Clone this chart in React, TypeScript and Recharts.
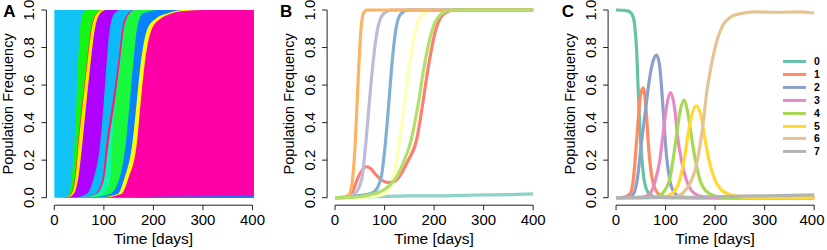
import React from "react";
import { ComposedChart, Area, Line, XAxis, YAxis, ReferenceLine, Legend } from "recharts";

type Pt = [number, number];

const timeTicks = [0, 100, 200, 300, 400];
const freqTicks = [0, 0.2, 0.4, 0.6, 0.8, 1];

// Panel A: cumulative clone boundaries, [day, frequency]
const aFounder: Pt[] = [[0, 1], [403, 1]];
const aGreen1: Pt[] = [[0, 0], [20, 0.001], [30, 0.02], [34.5, 0.1], [41, 0.3], [44.5, 0.5], [47.5, 0.7], [52, 0.9], [57, 0.98], [64, 1], [403, 1]];
const aRed1: Pt[] = [[0, 0], [22, 0.001], [33, 0.02], [41, 0.1], [48, 0.3], [56, 0.5], [64.5, 0.7], [74, 0.9], [84, 0.98], [96, 1], [403, 1]];
const aYellow1: Pt[] = [[0, 0], [23.5, 0.001], [34.5, 0.02], [42.5, 0.1], [49.5, 0.3], [57.5, 0.5], [66, 0.7], [75.5, 0.9], [85.5, 0.98], [97.5, 1], [403, 1]];
const aPurple: Pt[] = [[0, 0], [26, 0.001], [39, 0.02], [48, 0.1], [57, 0.3], [64.5, 0.5], [72.5, 0.7], [82, 0.9], [92, 0.98], [104, 1], [403, 1]];
const aBlue1: Pt[] = [[0, 0], [38, 0.001], [65, 0.02], [79, 0.1], [93, 0.3], [99.5, 0.5], [105, 0.7], [112, 0.9], [121, 0.98], [133, 1], [403, 1]];
const aRed2: Pt[] = [[0, 0], [50, 0.001], [82, 0.02], [97, 0.1], [105.4, 0.3], [117, 0.5], [127.7, 0.7], [137, 0.9], [148, 0.98], [160, 1], [403, 1]];
const aAqua: Pt[] = [[0, 0], [52, 0.001], [85, 0.02], [100.5, 0.1], [110, 0.3], [121.5, 0.5], [131.5, 0.7], [140.5, 0.9], [151.5, 0.98], [163, 1], [403, 1]];
const aGreen2: Pt[] = [[0, 0], [60, 0.001], [100, 0.02], [113, 0.1], [117, 0.3], [123, 0.5], [133, 0.7], [142, 0.9], [153, 0.98], [165, 1], [403, 1]];
const aBlue2: Pt[] = [[0, 0], [70, 0.001], [112, 0.02], [131, 0.1], [144.7, 0.3], [152, 0.5], [158.8, 0.7], [167, 0.9], [178, 0.98], [195, 0.995], [210, 1], [403, 1]];
const aYellow2: Pt[] = [[0, 0], [85, 0.001], [128, 0.02], [141, 0.1], [158, 0.3], [166, 0.5], [173.7, 0.7], [188, 0.9], [205, 0.955], [228, 0.982], [260, 1], [403, 1]];
const aMagenta: Pt[] = [[0, 0], [95, 0.001], [135, 0.02], [149, 0.1], [167, 0.3], [174, 0.5], [181.8, 0.7], [197, 0.9], [215, 0.955], [236, 0.982], [262, 0.995], [300, 1], [403, 1]];
const aBlue3: Pt[] = [[0, 0], [150, 0.001], [200, 0.005], [300, 0.008], [403, 0.012]];

// Panel B
const bTeal: Pt[] = [[0, 0], [40, 0.002], [80, 0.005], [150, 0.01], [215, 0.01], [280, 0.014], [350, 0.016], [400, 0.02]];
const bYellow: Pt[] = [[0, 0], [60, 0.003], [100, 0.02], [117, 0.1], [130, 0.3], [140, 0.5], [150, 0.7], [163, 0.9], [178, 0.98], [195, 1], [400, 1]];
const bRed: Pt[] = [[0, 0], [25, 0.005], [35, 0.03], [47, 0.11], [56, 0.15], [64, 0.165], [72, 0.155], [80, 0.13], [94, 0.094], [107, 0.08], [121, 0.088], [134, 0.13], [148, 0.2], [164, 0.3], [177, 0.5], [188.5, 0.7], [204, 0.9], [220, 0.98], [241, 1], [400, 1]];
const bLavender: Pt[] = [[0, 0], [25, 0.002], [40, 0.02], [54, 0.1], [62.5, 0.3], [69, 0.5], [76, 0.7], [86, 0.9], [98, 0.98], [115, 1], [400, 1]];
const bBlue: Pt[] = [[0, 0], [30, 0.003], [45, 0.01], [65, 0.018], [78, 0.03], [87, 0.06], [94, 0.12], [102, 0.3], [108.5, 0.5], [114.5, 0.7], [123, 0.9], [133, 0.98], [148, 1], [400, 1]];
const bOrange: Pt[] = [[0, 0], [18, 0.002], [29, 0.02], [35.5, 0.1], [41, 0.3], [44.5, 0.5], [48, 0.7], [52.5, 0.9], [57, 0.98], [64, 1], [400, 1]];
const bGreen: Pt[] = [[0, 0], [40, 0.003], [70, 0.015], [90, 0.03], [110, 0.065], [124, 0.11], [140, 0.2], [153, 0.3], [168, 0.5], [180, 0.7], [197, 0.9], [215, 0.98], [235, 1], [400, 1]];

// Panel C: genotypes 0..7
const cLabels = ["0", "1", "2", "3", "4", "5", "6", "7"];
const c0: Pt[] = [[0, 1], [20, 0.997], [28, 0.99], [35, 0.96], [38, 0.91], [41.5, 0.79], [45, 0.56], [48, 0.38], [53.6, 0.165], [58, 0.076], [65, 0.027], [75, 0.008], [90, 0.002], [120, 0], [400, 0]];
const c1: Pt[] = [[0, 0], [15, 0.002], [28, 0.02], [35, 0.1], [40, 0.25], [45, 0.42], [49.6, 0.55], [55, 0.585], [59.6, 0.5], [63, 0.38], [66.3, 0.25], [71.7, 0.12], [78.4, 0.05], [88, 0.015], [102, 0.003], [122, 0], [400, 0]];
const c2: Pt[] = [[0, 0], [25, 0.003], [35, 0.02], [43, 0.1], [51.6, 0.3], [61, 0.5], [68, 0.64], [75, 0.73], [81.7, 0.76], [87, 0.72], [91, 0.62], [95, 0.47], [102, 0.22], [108.5, 0.094], [118.6, 0.023], [132, 0.005], [150, 0], [400, 0]];
const c3: Pt[] = [[0, 0], [50, 0.002], [68, 0.02], [78, 0.08], [88.4, 0.2], [95, 0.34], [102, 0.485], [110, 0.56], [118.6, 0.47], [125, 0.31], [132, 0.2], [142, 0.094], [155, 0.03], [175.5, 0.005], [200, 0], [400, 0]];
const c4: Pt[] = [[0, 0], [70, 0.002], [88, 0.01], [98.5, 0.04], [108.5, 0.1], [115, 0.2], [122, 0.33], [128.6, 0.45], [136.7, 0.52], [145, 0.45], [152, 0.33], [158.8, 0.22], [168.8, 0.1], [182, 0.035], [202, 0.008], [229, 0], [400, 0]];
const c5: Pt[] = [[0, 0], [90, 0.002], [108.5, 0.015], [122, 0.05], [132, 0.13], [138.7, 0.22], [145, 0.33], [152, 0.43], [162, 0.49], [172, 0.43], [178.6, 0.33], [187.6, 0.2], [199, 0.1], [215.7, 0.035], [242.5, 0.008], [269, 0.002], [300, 0], [400, 0]];
const c6: Pt[] = [[0, 0], [100, 0.001], [120, 0.005], [135, 0.025], [150, 0.08], [160, 0.15], [169, 0.27], [176, 0.4], [182, 0.54], [192, 0.7], [202, 0.82], [216, 0.92], [230, 0.96], [250, 0.98], [280, 0.99], [330, 0.988], [370, 0.99], [400, 0.984]];
const c7: Pt[] = [[0, 0], [150, 0.002], [200, 0.005], [250, 0.008], [300, 0.01], [350, 0.012], [400, 0.015]];

const aLayers = [
  { pts: aFounder, color: "#14C3F6" },
  { pts: aGreen1, color: "#14F514" },
  { pts: aRed1, color: "#FF3A1A" },
  { pts: aYellow1, color: "#FFE400" },
  { pts: aPurple, color: "#B000FF" },
  { pts: aBlue1, color: "#0CBAF8" },
  { pts: aRed2, color: "#FF1A78" },
  { pts: aAqua, color: "#10F5B0" },
  { pts: aGreen2, color: "#18F83C" },
  { pts: aBlue2, color: "#0A82FF" },
  { pts: aYellow2, color: "#FAFF00" },
  { pts: aMagenta, color: "#FF00A8" },
  { pts: aBlue3, color: "#1E6EFF" },
];

const bLines = [
  { pts: bTeal, color: "#8DD3C7" },
  { pts: bYellow, color: "#FFFFB3" },
  { pts: bRed, color: "#FB8072" },
  { pts: bLavender, color: "#BEBADA" },
  { pts: bBlue, color: "#80B1D3" },
  { pts: bOrange, color: "#FDB462" },
  { pts: bGreen, color: "#B3DE69" },
];

const cColors = ["#66C2A5", "#FC8D62", "#8DA0CB", "#E78AC3", "#A6D854", "#FFD92F", "#E5C494", "#B3B3B3"];
const cSeries = [c0, c1, c2, c3, c4, c5, c6, c7];

const pts = (a: Pt[]) => a.map(([t, f]) => ({ t, f }));

const FONT = "'Liberation Sans', Arial, Helvetica, sans-serif";
const AXIS = "#222";

const W = 275;
const H = 250;
const PLOT_W = 214;

// keep the last label inside the chart's own box
const XTick = (p: any) => (
  <text x={Math.min(p.x, W - 13)} y={p.y + 14.5} textAnchor="middle" fontSize={15} fill="#000">
    {p.payload.value}
  </text>
);

const YTick = (p: any) => {
  const x = p.x - 7;
  return (
    <text x={x} y={p.y} transform={`rotate(-90, ${x}, ${p.y})`} textAnchor="middle" fontSize={15} fill="#000">
      {Number(p.payload.value).toFixed(1)}
    </text>
  );
};

function axes(plotLeft: number) {
  return [
    <XAxis
      key="x"
      dataKey="t"
      type="number"
      domain={[-16, 416]}
      ticks={timeTicks}
      interval={0}
      allowDataOverflow
      height={44.8}
      axisLine={false}
      tickLine={{ stroke: AXIS }}
      tickSize={5}
      tickMargin={0}
      tick={<XTick />}
      label={{ value: "Time [days]", position: "insideBottom", offset: 6.5, fill: "#000", fontSize: 15.5 }}
    />,
    <YAxis
      key="y"
      type="number"
      domain={[-0.04, 1.04]}
      ticks={freqTicks}
      interval={0}
      allowDataOverflow
      width={plotLeft}
      axisLine={false}
      tickLine={{ stroke: AXIS }}
      tickSize={5}
      tickMargin={0}
      tick={<YTick />}
      label={{
        value: "Population Frequency",
        angle: -90,
        position: "insideLeft",
        offset: plotLeft - 38.5,
        fill: "#000",
        fontSize: 14.5,
        style: { textAnchor: "middle" },
      }}
    />,
    <ReferenceLine key="xl" segment={[{ x: 0, y: -0.04 }, { x: 400, y: -0.04 }]} stroke={AXIS} strokeWidth={1} />,
    <ReferenceLine key="yl" segment={[{ x: -16, y: 0 }, { x: -16, y: 1 }]} stroke={AXIS} strokeWidth={1} />,
  ];
}

function margin(plotLeft: number) {
  return { top: 2.5, right: W - plotLeft - PLOT_W, bottom: 0, left: 0 };
}

const Letter = ({ x, ch }: { x: number; ch: string }) => (
  <text x={x} y={16.7} fontSize={17} fontWeight="bold" fill="#000">
    {ch}
  </text>
);

function PanelA() {
  const pl = 46.4;
  return (
    <ComposedChart width={W} height={H} margin={margin(pl)}>
      {axes(pl)}
      {aLayers.map((l, i) => (
        <Area
          key={i}
          data={pts(l.pts)}
          dataKey="f"
          type="monotone"
          stroke="none"
          fill={l.color}
          fillOpacity={1}
          dot={false}
          activeDot={false}
          isAnimationActive={false}
        />
      ))}
      <Letter x={3.3} ch="A" />
    </ComposedChart>
  );
}

function PanelB() {
  const pl = 52.1;
  return (
    <ComposedChart width={W} height={H} margin={margin(pl)}>
      {axes(pl)}
      {bLines.map((l, i) => (
        <Line
          key={i}
          data={pts(l.pts)}
          dataKey="f"
          type="monotone"
          stroke={l.color}
          strokeWidth={3.2}
          dot={false}
          activeDot={false}
          isAnimationActive={false}
        />
      ))}
      <Letter x={5} ch="B" />
    </ComposedChart>
  );
}

const CLegend = () => (
  <div style={{ fontFamily: FONT }}>
    {cLabels.map((lab, i) => (
      <div key={lab} style={{ height: 12.86, display: "flex", alignItems: "center" }}>
        <svg width={31.3} height={12.86} style={{ display: "block" }}>
          <line x1={0} x2={23} y1={6.43} y2={6.43} stroke={cColors[i]} strokeWidth={3} />
        </svg>
        <span style={{ fontSize: 10.5, fontWeight: "bold", color: "#000", lineHeight: "12.86px" }}>{lab}</span>
      </div>
    ))}
  </div>
);

function PanelC() {
  const pl = 58.1;
  return (
    <ComposedChart width={W} height={H} margin={margin(pl)}>
      {axes(pl)}
      {cSeries.map((s, i) => (
        <Line
          key={i}
          name={cLabels[i]}
          data={pts(s)}
          dataKey="f"
          type="monotone"
          stroke={cColors[i]}
          strokeWidth={3.2}
          dot={false}
          activeDot={false}
          isAnimationActive={false}
        />
      ))}
      <Legend
        layout="vertical"
        align="center"
        verticalAlign="middle"
        wrapperStyle={{ left: 232.7, top: 55.3, width: 45, margin: 0 }}
        content={() => <CLegend />}
      />
      <Letter x={11.7} ch="C" />
    </ComposedChart>
  );
}

export default function App() {
  return (
    <div style={{ position: "absolute", left: 0, top: 0, width: 827, height: 250, background: "#fff", fontFamily: FONT }}>
      <div style={{ position: "absolute", left: 0, top: 0 }}>
        <PanelA />
      </div>
      <div style={{ position: "absolute", left: 275, top: 0 }}>
        <PanelB />
      </div>
      <div style={{ position: "absolute", left: 550, top: 0 }}>
        <PanelC />
      </div>
    </div>
  );
}
